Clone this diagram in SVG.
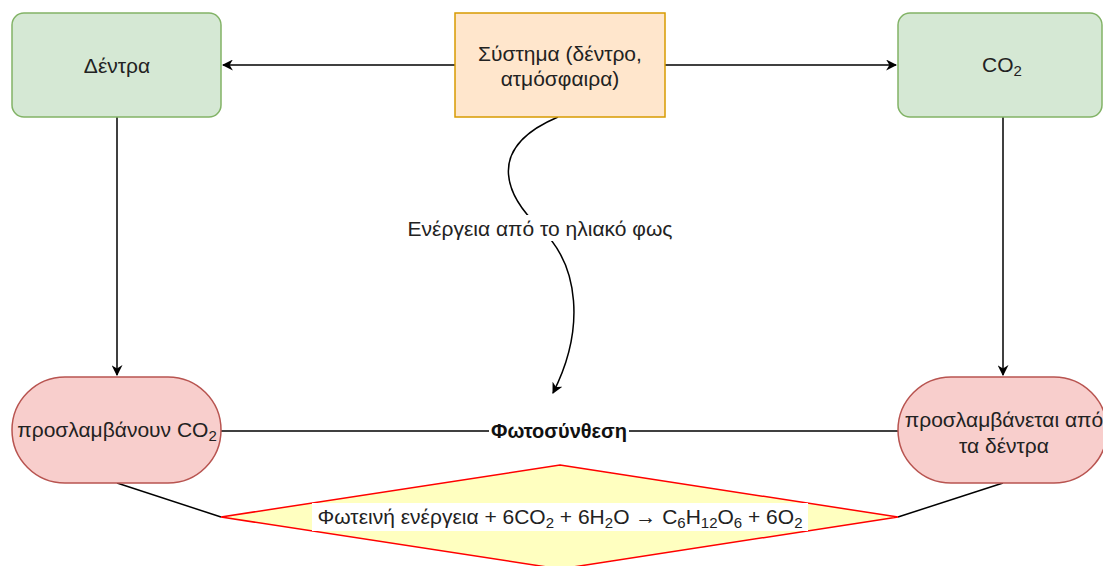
<svg xmlns="http://www.w3.org/2000/svg" width="1103" height="566" viewBox="0 0 1103 566">
  <style>
    text { font-family: "Liberation Sans", Arial, sans-serif; fill: #222; }
    .lbl { font-size: 21px; text-anchor: middle; dominant-baseline: central; }
    .bold { font-weight: bold; font-size: 20px; fill: #111; }
    .green { fill: #d5e8d4; stroke: #82b366; stroke-width: 1.5; }
    .orange { fill: #ffe6cc; stroke: #d79b00; stroke-width: 1.5; }
    .pink { fill: #f8cecc; stroke: #b85450; stroke-width: 1.5; }
    .decision { fill: #ffffc0; stroke: #ff0000; stroke-width: 1.5; }
    .edge { fill: none; stroke: #000; stroke-width: 1.5; }
    .sub { font-size: 15px; }
  </style>
  <defs>
    <marker id="arrow" viewBox="0 0 10 10" refX="9" refY="5" markerWidth="11" markerHeight="11" markerUnits="userSpaceOnUse" orient="auto">
      <path d="M0,0 L10,5 L0,10 L3,5 Z" fill="#000"/>
    </marker>
  </defs>

  <!-- connectors -->
  <g id="connectors">
    <path class="edge" d="M455,65 L223,65" marker-end="url(#arrow)"/>
    <path class="edge" d="M665,65 L896,65" marker-end="url(#arrow)"/>
    <path class="edge" d="M117,117 L117,375" marker-end="url(#arrow)"/>
    <path class="edge" d="M1003,117 L1003,375" marker-end="url(#arrow)"/>
    <path class="edge" d="M558,117 C480,150 510,200 540,228 C580,265 585,330 553,393" marker-end="url(#arrow)"/>
    <path class="edge" d="M221,431 L898,431"/>
    <path class="edge" d="M117,483 L221,517"/>
    <path class="edge" d="M1003,483 L898,517"/>
    <!-- edge labels -->
    <rect x="405" y="215" width="270" height="26" fill="#fff"/>
    <text class="lbl" x="540" y="228">Ενέργεια από το ηλιακό φως</text>
    <rect x="489" y="419" width="140" height="24" fill="#fff"/>
    <text class="lbl bold" x="559" y="431">Φωτοσύνθεση</text>
  </g>

  <g id="dentra">
    <rect class="green" x="12" y="13" width="209" height="104" rx="12"/>
    <text class="lbl" x="117" y="65">Δέντρα</text>
  </g>

  <g id="systima">
    <rect class="orange" x="455" y="13" width="210" height="104"/>
    <text class="lbl" x="560" y="53">Σύστημα (δέντρο,</text>
    <text class="lbl" x="560" y="78">ατμόσφαιρα)</text>
  </g>

  <g id="co2">
    <rect class="green" x="898" y="13" width="204" height="104" rx="12"/>
    <text class="lbl" x="1002" y="64">CO<tspan class="sub" dy="6">2</tspan></text>
  </g>

  <g id="proslamvanoun">
    <rect class="pink" x="12" y="377" width="209" height="106" rx="53"/>
    <text class="lbl" x="117" y="429">προσλαμβάνουν CO<tspan class="sub" dy="6">2</tspan></text>
  </g>

  <g id="proslamvanetai">
    <rect class="pink" x="898" y="377" width="209" height="106" rx="53"/>
    <text class="lbl" x="1004" y="419">προσλαμβάνεται από</text>
    <text class="lbl" x="1004" y="445">τα δέντρα</text>
  </g>

  <g id="exisosi">
    <polygon class="decision" points="560,465 898,517 560,569 221,517"/>
    <rect x="312" y="503" width="496" height="28" fill="#fff"/>
    <text class="lbl" x="560" y="516">Φωτεινή ενέργεια + 6CO<tspan class="sub" dy="6">2</tspan><tspan dy="-6"> + 6H</tspan><tspan class="sub" dy="6">2</tspan><tspan dy="-6">O → C</tspan><tspan class="sub" dy="6">6</tspan><tspan dy="-6">H</tspan><tspan class="sub" dy="6">12</tspan><tspan dy="-6">O</tspan><tspan class="sub" dy="6">6</tspan><tspan dy="-6"> + 6O</tspan><tspan class="sub" dy="6">2</tspan></text>
  </g>
</svg>
